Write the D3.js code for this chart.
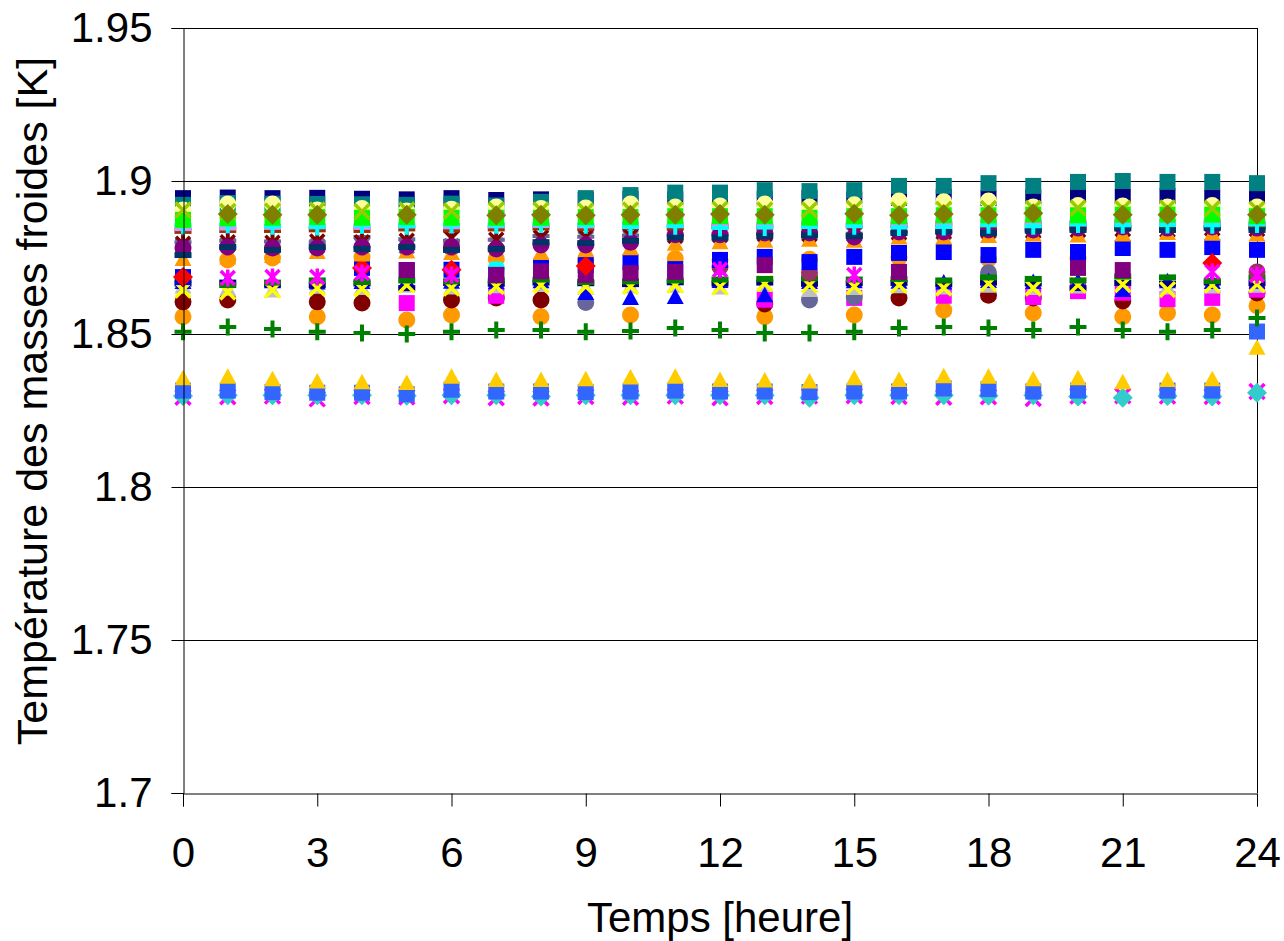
<!DOCTYPE html>
<html>
<head>
<meta charset="utf-8">
<script src="https://cdn.jsdelivr.net/npm/d3@7/dist/d3.min.js"></script>
<style>
body{margin:0;background:#fff;}
text{font-family:"Liberation Sans",Arial,sans-serif;fill:#000;}
</style>
</head>
<body>
<div id="chart"></div>
<script>
var hours=[0,1,2,3,4,5,6,7,8,9,10,11,12,13,14,15,16,17,18,19,20,21,22,23,24];
var xTicks=[0,3,6,9,12,15,18,21,24];
var yTicks=[1.7,1.75,1.8,1.85,1.9,1.95];

// temperatures [K], one value per hour (null = marker not visible in the original)
var orangeCircle=[1.8556,1.8742,1.8748,1.8556,1.8752,1.8546,1.8562,1.8745,1.8556,1.8740,1.8562,1.8746,1.8741,1.8556,1.8744,1.8562,1.8749,1.8578,1.8745,1.8569,1.8747,1.8556,1.8569,1.8562,1.8592];
var maroonCircle=[1.8605,1.8611,null,1.8605,1.8601,null,1.8611,1.8618,1.8611,null,null,null,null,1.8598,null,null,1.8618,null,1.8627,1.8618,null,1.8608,null,null,1.8634];
var magentaSquare=[null,null,null,null,null,1.8601,null,1.8625,null,null,null,null,null,1.8612,null,1.8618,null,1.8625,null,1.8621,1.8640,1.8635,1.8614,1.8618,1.8645];
var slateCircle=[null,null,null,null,null,null,null,null,null,1.8603,null,null,null,null,1.8611,1.8621,null,null,1.8700,null,null,null,null,null,null];
var silverTriangle=[1.8655,1.8648,1.8642,1.8655,1.8650,1.8658,1.8652,1.8656,1.8660,1.8650,1.8655,1.8658,1.8652,1.8660,1.8644,1.8650,1.8656,1.8652,1.8658,1.8650,1.8655,1.8660,1.8652,1.8655,1.8658];
var blueTriangle=[1.8670,1.8675,1.8672,1.8668,1.8670,1.8674,1.8671,1.8669,1.8672,1.8634,1.8618,1.8621,1.8673,1.8627,1.8670,1.8672,1.8671,1.8668,1.8673,1.8670,1.8672,1.8644,1.8672,1.8670,1.8671];
var navyDashMid=[1.8665,1.8668,1.8662,1.8660,1.8665,1.8650,1.8667,1.8664,1.8668,1.8666,1.8663,1.8669,1.8665,1.8668,1.8664,1.8666,1.8667,1.8662,1.8668,1.8665,1.8650,1.8667,1.8664,1.8668,1.8666];
var yellowX=[1.8644,1.8637,1.8644,1.8650,1.8648,1.8660,1.8650,1.8655,1.8660,1.8655,1.8655,1.8660,1.8654,1.8665,1.8660,1.8655,1.8660,1.8650,1.8665,1.8650,1.8660,1.8662,1.8645,1.8660,1.8662];
var greenDash=[1.8672,1.8660,1.8668,1.8675,1.8670,1.8675,1.8672,1.8675,1.8678,1.8670,1.8672,1.8675,1.8678,1.8680,1.8682,1.8678,1.8680,1.8675,1.8685,1.8680,1.8675,1.8688,1.8685,1.8673,1.8685];
var cyanCircle=[null,null,null,null,null,null,null,1.8715,null,null,null,null,null,null,null,null,null,null,null,null,null,null,null,null,null];
var mauveCircle=[null,null,null,null,null,null,null,null,null,null,null,null,1.8719,null,1.8699,null,null,null,null,null,null,null,null,null,1.8703];
var blueSquare=[1.8686,null,null,null,1.8716,1.8709,1.8710,1.8693,1.8720,1.8725,1.8735,1.8712,1.8742,1.8752,1.8735,1.8752,1.8765,1.8768,1.8758,1.8775,1.8768,1.8781,1.8775,1.8784,1.8775];
var purpleSquare=[null,null,null,null,null,1.8709,null,1.8693,1.8705,1.8693,1.8699,1.8703,null,1.8725,null,null,1.8703,null,null,null,1.8716,1.8709,null,null,null];
var redDiamond=[1.8686,null,null,null,1.8716,null,1.8710,null,null,1.8722,null,null,null,null,null,null,null,null,null,null,null,null,null,1.8732,null];
var magentaStar=[null,1.8683,1.8686,1.8686,1.8699,null,1.8693,null,null,null,null,null,1.8710,null,null,1.8693,null,null,null,null,null,null,null,1.8703,1.8693];
var slateStar=[1.8790,1.8792,1.8785,1.8788,1.8790,1.8786,1.8788,1.8790,1.8815,1.8812,1.8815,1.8820,1.8822,1.8825,1.8828,1.8825,1.8830,1.8832,1.8835,1.8838,1.8840,1.8842,1.8840,1.8845,1.8842];
var slatePlus=[1.8800,1.8805,1.8802,1.8800,1.8817,1.8810,1.8805,1.8808,1.8820,1.8818,1.8822,1.8825,1.8828,1.8826,1.8830,1.8828,1.8832,1.8835,1.8838,1.8840,1.8842,1.8845,1.8843,1.8846,1.8845];
var maroonStar=[1.8795,1.8800,1.8798,1.8802,1.8800,1.8805,1.8814,1.8808,1.8815,1.8818,1.8820,1.8822,1.8825,1.8828,1.8826,1.8830,1.8832,1.8835,1.8838,1.8836,1.8840,1.8842,1.8840,1.8845,1.8843];
var orangeTriangle=[1.8745,1.8750,1.8755,1.8768,1.8760,1.8770,1.8765,1.8760,1.8765,1.8775,1.8780,1.8795,1.8800,1.8805,1.8808,1.8805,1.8815,1.8815,1.8820,1.8825,1.8822,1.8825,1.8830,1.8828,1.8825];
var purpleCircle=[1.8781,1.8784,1.8781,1.8781,1.8784,1.8784,1.8784,1.8778,1.8791,1.8791,1.8800,1.8824,1.8824,1.8830,1.8830,1.8817,1.8833,1.8833,1.8840,1.8840,1.8846,1.8850,1.8846,1.8850,1.8846];
var navyDash=[1.8758,1.8784,1.8775,1.8784,1.8778,1.8784,1.8775,1.8778,1.8800,1.8797,1.8805,1.8815,1.8815,1.8820,1.8822,1.8820,1.8830,1.8835,1.8830,1.8838,1.8840,1.8845,1.8840,1.8846,1.8840];
var brownDash=[1.8837,1.8840,1.8840,1.8842,1.8840,1.8845,1.8842,1.8845,1.8848,1.8846,1.8850,1.8848,1.8852,1.8850,1.8852,1.8855,1.8855,1.8858,1.8856,1.8858,1.8860,1.8860,1.8858,1.8862,1.8858];
var lavenderDash=[1.8846,1.8848,1.8850,1.8852,1.8850,1.8855,1.8852,1.8855,1.8856,1.8855,1.8858,1.8858,1.8860,1.8858,1.8860,1.8862,1.8862,1.8865,1.8864,1.8866,1.8865,1.8868,1.8866,1.8868,1.8865];
var cyanPlus=[1.8855,1.8858,1.8852,1.8850,1.8855,1.8852,1.8856,1.8855,1.8858,1.8855,1.8850,1.8852,1.8846,1.8848,1.8850,1.8852,1.8848,1.8850,1.8855,1.8852,1.8858,1.8855,1.8856,1.8855,1.8858];
var navySquare=[1.8944,1.8946,1.8944,1.8945,1.8942,1.8940,1.8944,1.8938,1.8940,1.8938,1.8942,1.8940,1.8944,1.8942,1.8944,1.8940,1.8945,1.8948,1.8944,1.8946,1.8950,1.8948,1.8950,1.8946,1.8948];
var tealSquare=[1.8922,1.8928,1.8926,1.8925,1.8924,1.8922,1.8926,1.8920,1.8932,1.8944,1.8954,1.8962,1.8962,1.8970,1.8967,1.8970,1.8984,1.8984,1.8993,1.8984,1.8997,1.9000,1.8997,1.8997,1.8993];
var lightYellowCircle=[1.8905,1.8925,1.8925,1.8905,1.8910,1.8902,1.8908,1.8915,1.8910,1.8912,1.8925,1.8915,1.8918,1.8925,1.8915,1.8922,1.8935,1.8932,1.8935,1.8915,1.8920,1.8918,1.8915,1.8920,1.8915];
var greenSquare=[1.8873,1.8878,1.8880,1.8882,1.8880,1.8882,1.8880,1.8880,1.8880,1.8882,1.8882,1.8885,1.8885,1.8885,1.8880,1.8885,1.8885,1.8888,1.8888,1.8890,1.8888,1.8890,1.8890,1.8890,1.8885];
var yellowGreenX=[1.8905,1.8900,1.8902,1.8905,1.8900,1.8905,1.8902,1.8905,1.8905,1.8902,1.8905,1.8906,1.8908,1.8905,1.8906,1.8910,1.8905,1.8908,1.8910,1.8910,1.8912,1.8910,1.8912,1.8910,1.8908];
var oliveDiamond=[null,1.8892,1.8890,1.8890,null,1.8890,null,1.8888,1.8890,1.8888,1.8890,1.8890,1.8892,1.8890,null,1.8893,1.8888,1.8892,1.8890,1.8895,null,1.8890,1.8890,null,1.8890];
var magentaX=[1.8293,1.8295,1.8297,1.8288,1.8296,1.8294,1.8298,1.8292,1.8291,1.8296,1.8293,1.8297,1.8292,1.8296,1.8297,1.8298,1.8296,1.8293,1.8295,1.8289,1.8297,1.8298,1.8297,1.8296,1.8312];
var turquoiseDiamond=[1.8297,1.8300,1.8300,1.8300,1.8300,1.8298,1.8300,1.8300,1.8296,1.8300,1.8300,1.8300,1.8300,1.8300,1.8292,1.8300,1.8300,1.8300,1.8298,1.8300,1.8296,1.8292,1.8297,1.8296,1.8308];
var royalSquare=[1.8315,1.8315,1.8310,1.8308,1.8308,1.8303,1.8318,1.8312,1.8312,1.8310,1.8312,1.8315,1.8312,1.8312,1.8310,1.8312,1.8312,1.8322,1.8320,1.8312,1.8315,null,1.8315,1.8315,1.8508];
var goldTriangle=[1.8355,1.8360,1.8352,1.8345,1.8342,1.8340,1.8360,1.8350,1.8350,1.8352,1.8358,1.8360,1.8350,1.8348,1.8345,1.8355,1.8350,1.8362,1.8360,1.8352,1.8355,1.8342,1.8350,1.8352,1.8455];
var greenPlus=[1.8507,1.8523,1.8516,1.8507,1.8503,1.8500,1.8507,1.8513,1.8513,1.8507,1.8510,1.8520,1.8513,1.8503,1.8503,1.8507,1.8520,1.8523,1.8520,1.8513,1.8523,1.8513,1.8507,1.8513,1.8552];

// draw order: first listed is drawn underneath
var series=[
  {values:orangeCircle,color:"#FF9900",shape:"circle"},
  {values:maroonCircle,color:"#800000",shape:"circle"},
  {values:magentaSquare,color:"#FF00FF",shape:"square"},
  {values:slateCircle,color:"#666699",shape:"circle"},
  {values:silverTriangle,color:"#C0C0C0",shape:"triangle"},
  {values:blueTriangle,color:"#0000FF",shape:"triangle"},
  {values:navyDashMid,color:"#000080",shape:"dash"},
  {values:yellowX,color:"#FFFF00",shape:"x"},
  {values:greenDash,color:"#008000",shape:"dash"},
  {values:cyanCircle,color:"#00FFFF",shape:"circle"},
  {values:mauveCircle,color:"#993366",shape:"circle"},
  {values:blueSquare,color:"#0000FF",shape:"square"},
  {values:purpleSquare,color:"#800080",shape:"square"},
  {values:redDiamond,color:"#FF0000",shape:"diamond"},
  {values:magentaStar,color:"#FF00FF",shape:"star"},
  {values:slateStar,color:"#666699",shape:"star"},
  {values:slatePlus,color:"#666699",shape:"plus"},
  {values:maroonStar,color:"#800000",shape:"star"},
  {values:orangeTriangle,color:"#FF9900",shape:"triangle"},
  {values:purpleCircle,color:"#800080",shape:"circle"},
  {values:navyDash,color:"#003366",shape:"dash"},
  {values:brownDash,color:"#993300",shape:"dash"},
  {values:lavenderDash,color:"#CC99FF",shape:"dash"},
  {values:cyanPlus,color:"#00FFFF",shape:"plus"},
  {values:navySquare,color:"#000080",shape:"square"},
  {values:tealSquare,color:"#008080",shape:"square"},
  {values:lightYellowCircle,color:"#FFFF99",shape:"circle"},
  {values:greenSquare,color:"#00FF00",shape:"square"},
  {values:yellowGreenX,color:"#99CC00",shape:"x"},
  {values:oliveDiamond,color:"#808000",shape:"diamond"},
  {values:magentaX,color:"#FF00FF",shape:"x"},
  {values:turquoiseDiamond,color:"#33CCCC",shape:"diamond"},
  {values:royalSquare,color:"#3366FF",shape:"square"},
  {values:goldTriangle,color:"#FFCC00",shape:"triangle"},
  {values:greenPlus,color:"#008000",shape:"plus"}
];

var width=1284, height=941;
var plotLeft=183, plotRight=1257, plotTop=28, plotBottom=793;

var svg=d3.select("#chart").append("svg")
  .attr("width",width)
  .attr("height",height);

var x=d3.scaleLinear().domain([0,24]).range([plotLeft,plotRight]);
var y=d3.scaleLinear().domain([1.7,1.95]).range([plotBottom,plotTop]);

// horizontal grid
svg.append("g").selectAll("line")
  .data(yTicks.slice(1))
  .enter().append("line")
  .attr("x1",plotLeft).attr("x2",plotRight)
  .attr("y1",function(d){return Math.round(y(d))+0.5;})
  .attr("y2",function(d){return Math.round(y(d))+0.5;})
  .attr("stroke","#000").attr("stroke-width",1);

// right border of plot area
svg.append("line")
  .attr("x1",plotRight+0.5).attr("x2",plotRight+0.5)
  .attr("y1",plotTop).attr("y2",plotBottom)
  .attr("stroke","#000");

function markerPath(shape){
  var p=d3.path();
  if(shape=="square"){ p.rect(-8,-8,16,16); }
  else if(shape=="circle"){ p.arc(0,0,8.5,0,2*Math.PI); }
  else if(shape=="diamond"){ p.moveTo(0,-10);p.lineTo(10,0);p.lineTo(0,10);p.lineTo(-10,0);p.closePath(); }
  else if(shape=="triangle"){ p.moveTo(0,-8.5);p.lineTo(8.5,7);p.lineTo(-8.5,7);p.closePath(); }
  else if(shape=="dash"){ p.rect(-8.5,-3,17,6); }
  else if(shape=="x"){ p.moveTo(-7.5,-7.5);p.lineTo(7.5,7.5);p.moveTo(7.5,-7.5);p.lineTo(-7.5,7.5); }
  else if(shape=="plus"){ p.moveTo(-8.5,0);p.lineTo(8.5,0);p.moveTo(0,-8.5);p.lineTo(0,8.5); }
  else if(shape=="star"){ p.moveTo(-7,-7);p.lineTo(7,7);p.moveTo(7,-7);p.lineTo(-7,7);p.moveTo(0,-8.5);p.lineTo(0,8.5); }
  return p.toString();
}
var stroked={x:true,plus:true,star:true};

series.forEach(function(s){
  var pts=hours.map(function(h,i){return {h:h,v:s.values[i]};})
    .filter(function(d){return d.v!=null;});
  var g=svg.append("g");
  g.selectAll("path")
    .data(pts)
    .enter().append("path")
    .attr("transform",function(d){return "translate("+x(d.h)+","+y(d.v)+")";})
    .attr("d",markerPath(s.shape))
    .attr("fill",stroked[s.shape]?"none":s.color)
    .attr("stroke",stroked[s.shape]?s.color:"none")
    .attr("stroke-width",s.shape=="plus"?4:3.5);
});

// axes
var yAxis=svg.append("g")
  .attr("transform","translate("+(plotLeft+0.5)+",0)")
  .call(d3.axisLeft(y).tickValues(yTicks).tickSize(12).tickPadding(19)
    .tickFormat(function(d){return String(+d.toFixed(2));}));
var xAxis=svg.append("g")
  .attr("transform","translate(0,"+(plotBottom+0.5)+")")
  .call(d3.axisBottom(x).tickValues(xTicks).tickSize(13).tickPadding(31));

[yAxis,xAxis].forEach(function(a){
  a.select(".domain").attr("stroke","#000").attr("stroke-width",1);
  a.selectAll(".tick line").attr("stroke","#000");
  a.selectAll("text").style("font-size","42px").attr("fill","#000")
    .style("font-family","'Liberation Sans',Arial,sans-serif");
});

svg.append("text")
  .attr("x",(plotLeft+plotRight)/2)
  .attr("y",932)
  .attr("text-anchor","middle")
  .style("font-size","42px")
  .text("Temps [heure]");

svg.append("text")
  .attr("transform","translate(47,401) rotate(-90)")
  .attr("text-anchor","middle")
  .style("font-size","43px")
  .text("Température des masses froides [K]");
</script>
</body>
</html>
